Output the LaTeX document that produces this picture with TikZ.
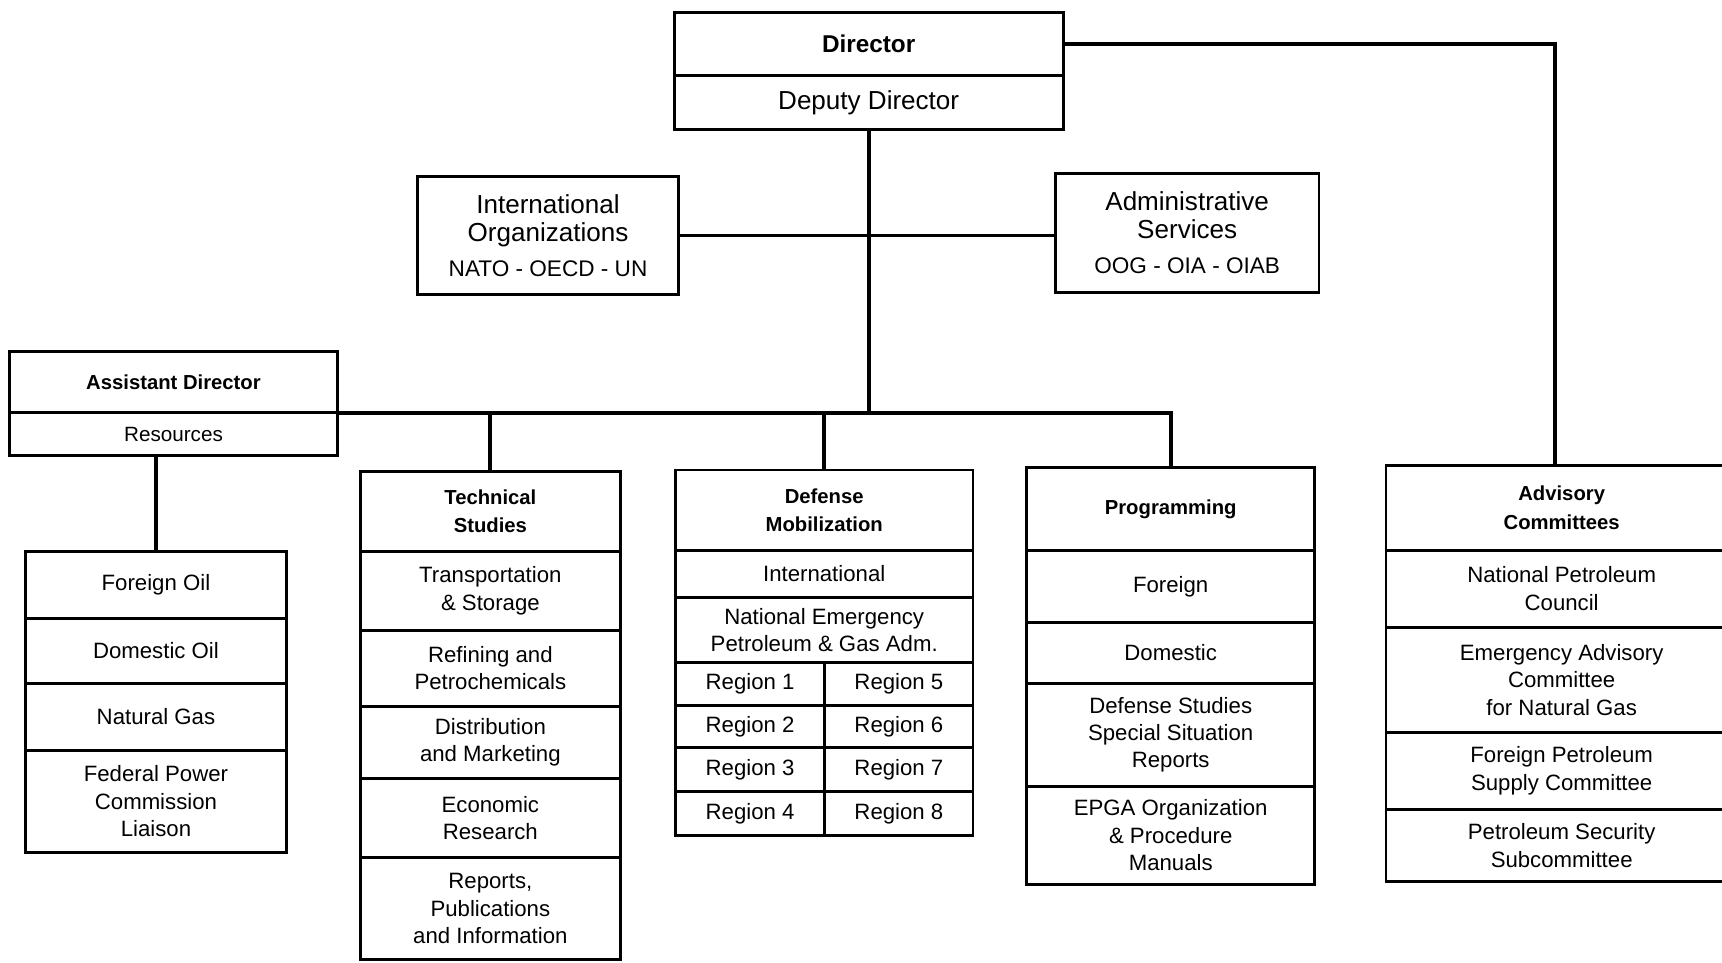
\documentclass[tikz,border=0pt]{standalone}
\usepackage{fontspec}
\setmainfont{Liberation Sans}
\newcommand{\pxu}{0.2mm}
% one rectangular cell of the chart, given by its corners
\newcommand{\orgcell}[7][]{%
  \node[cell,#1,minimum width={(#5-#3)*\pxu},minimum height={(#6-#4)*\pxu}]
    (#2) at ({(#3+#5)/2},{(#4+#6)/2}) {#7};}
\begin{document}
\begin{tikzpicture}[x=0.2mm,y=-0.2mm,
  cell/.style={draw,line width=1.5pt,inner sep=0pt,outer sep=0pt,align=center,
    font=\fontsize{11.5}{14.2}\selectfont},
  head/.style={font=\bfseries\fontsize{10.5}{14.8}\selectfont},
  big/.style={font=\fontsize{13.5}{14.2}\selectfont},
  conn/.style={line width=2pt}]
\clip (0,0) rectangle (1568,876);

% top of the organisation
\orgcell[font=\bfseries\fontsize{12.6}{14}\selectfont]{dir}{614}{11}{968}{69}{Director}
\orgcell[big]{dep}{614}{69}{968}{118}{Deputy Director}
\orgcell[big]{intl}{380}{161}{618}{268}{International\\Organizations\\[4pt]{\fontsize{11.7}{14}\selectfont NATO - OECD - UN}}
\orgcell[big]{adm}{961}{158}{1201}{266}{Administrative\\Services\\[4pt]{\fontsize{11.7}{14}\selectfont OOG - OIA - OIAB}}
\orgcell[head]{ad}{9}{320}{307}{376}{Assistant Director}
\orgcell[font=\fontsize{10.7}{13}\selectfont]{res}{9}{376}{307}{415}{Resources}

% resources divisions
\orgcell{lf1}{23}{502}{261}{563}{Foreign Oil}
\orgcell{lf2}{23}{563}{261}{622}{Domestic Oil}
\orgcell{lf3}{23}{622}{261}{683}{Natural Gas}
\orgcell{lf4}{23}{683}{261}{776}{Federal Power\\Commission\\Liaison}

% technical studies
\orgcell[head]{ts0}{328}{429}{565}{502}{Technical\\Studies}
\orgcell{ts1}{328}{502}{565}{574}{Transportation\\\& Storage}
\orgcell{ts2}{328}{574}{565}{643}{Refining and\\Petrochemicals}
\orgcell{ts3}{328}{643}{565}{709}{Distribution\\and Marketing}
\orgcell{ts4}{328}{709}{565}{781}{Economic\\Research}
\orgcell{ts5}{328}{781}{565}{874}{Reports,\\Publications\\and Information}

% defense mobilization
\orgcell[head]{dm0}{615}{428}{886}{501}{Defense\\Mobilization}
\orgcell{dm1}{615}{501}{886}{544}{International}
\orgcell{dm2}{615}{544}{886}{603}{National Emergency\\Petroleum \& Gas Adm.}
\orgcell{r1}{615}{603}{751}{642}{Region 1}
\orgcell{r2}{615}{642}{751}{681}{Region 2}
\orgcell{r3}{615}{681}{751}{721}{Region 3}
\orgcell{r4}{615}{721}{751}{761}{Region 4}
\orgcell{r5}{751}{603}{886}{642}{Region 5}
\orgcell{r6}{751}{642}{886}{681}{Region 6}
\orgcell{r7}{751}{681}{886}{721}{Region 7}
\orgcell{r8}{751}{721}{886}{761}{Region 8}

% programming
\orgcell[head]{pg0}{935}{426}{1197}{501}{Programming}
\orgcell{pg1}{935}{501}{1197}{567}{Foreign}
\orgcell{pg2}{935}{567}{1197}{622}{Domestic}
\orgcell{pg3}{935}{622}{1197}{716}{Defense Studies\\Special Situation\\Reports}
\orgcell{pg4}{935}{716}{1197}{805}{EPGA Organization\\\& Procedure\\Manuals}

% advisory committees
\orgcell[head]{av0}{1262}{424}{1582}{501}{Advisory\\Committees}
\orgcell{av1}{1262}{501}{1582}{571}{National Petroleum\\Council}
\orgcell{av2}{1262}{571}{1582}{667}{Emergency Advisory\\Committee\\for Natural Gas}
\orgcell{av3}{1262}{667}{1582}{737}{Foreign Petroleum\\Supply Committee}
\orgcell{av4}{1262}{737}{1582}{803}{Petroleum Security\\Subcommittee}

% connectors
\draw[conn] (dep.south) -- (dep.south |- ad.south east);
\draw[conn] (intl.east) -- (intl.east -| adm.west);
\draw[conn] (ad.south east) -- (ad.south east -| pg0.north) -- (pg0.north);
\draw[conn] (ts0.north) -- (ts0.north |- ad.south east);
\draw[conn] (dm0.north) -- (dm0.north |- ad.south east);
\draw[conn] (lf1.north) -- (lf1.north |- res.south);
\draw[conn] (dir.east) -| ([xshift=-6*\pxu]av0.north);
\end{tikzpicture}
\end{document}
